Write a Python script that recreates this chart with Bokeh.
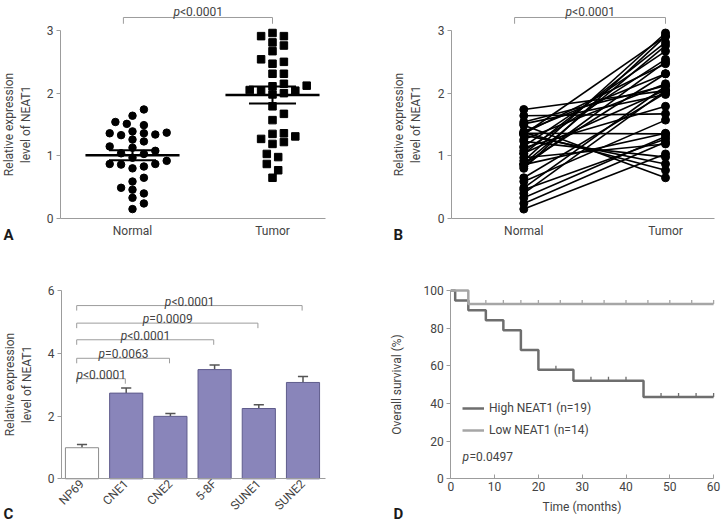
import math
import numpy as np
from bokeh.plotting import figure
from bokeh.layouts import column, row
from bokeh.models import Range1d, FixedTicker, Label, Legend, LegendItem
from bokeh.core.properties import value
from bokeh.embed import file_html
from bokeh.resources import INLINE

# ---------------- data ----------------
groups = ["Normal", "Tumor"]
# paired samples (same order in both lists)
normal_expr = [0.15, 0.24, 0.33, 0.40, 0.46, 0.49, 0.59, 0.65, 0.80, 0.83, 0.86,
               0.87, 0.87, 0.92, 0.97, 1.03, 1.04, 1.08, 1.13, 1.15, 1.23, 1.26,
               1.33, 1.34, 1.36, 1.36, 1.37, 1.39, 1.49, 1.51, 1.54, 1.64, 1.74]
tumor_expr = [1.03, 1.22, 1.31, 2.04, 1.27, 2.11, 1.57, 2.00, 2.91, 2.50, 1.36,
              2.76, 2.31, 2.96, 1.19, 2.81, 2.05, 2.54, 1.79, 2.67, 0.98, 2.15,
              0.87, 2.91, 1.35, 2.47, 0.77, 2.31, 0.65, 1.98, 2.12, 1.67, 2.04]
group_mean = [1.01, 1.97]
group_sem = [0.08, 0.135]
paired_p = "<0.0001"

cell_lines = ["NP69", "CNE1", "CNE2", "5-8F", "SUNE1", "SUNE2"]
cell_expr = [0.99, 2.73, 1.99, 3.48, 2.24, 3.07]
cell_err = [0.10, 0.16, 0.09, 0.15, 0.12, 0.19]
cmp_targets = ["CNE1", "CNE2", "5-8F", "SUNE1", "SUNE2"]
cmp_p = ["<0.0001", "=0.0063", "<0.0001", "=0.0009", "<0.0001"]
cmp_level = [3.19, 3.84, 4.43, 4.96, 5.52]

km_labels = ["High NEAT1 (n=19)", "Low NEAT1 (n=14)"]
high_time = [1, 4, 8, 12, 16, 16, 20, 20, 24, 28, 32, 36, 40, 44, 48, 52, 56, 60, 60]
high_event = [1, 1, 1, 1, 1, 1, 1, 1, 0, 1, 0, 0, 0, 1, 0, 0, 0, 0, 0]
low_time = [4, 8, 12, 16, 20, 25, 30, 35, 40, 45, 50, 55, 60, 60]
low_event = [1, 0, 0, 0, 0, 0, 0, 0, 0, 0, 0, 0, 0, 0]
km_p = "=0.0497"

# ---------------- style ----------------
FONT = "Roboto"
TXT = "#434343"
AXC = "#9c9c9c"
BAR_FILL = "#8985ba"
BAR_LINE = "#5f5c8c"
HIGH_C = "#6e6e6e"
LOW_C = "#a6a6a6"
FS = "12px"


def make_fig(w, h, xr, yr):
    p = figure(width=w, height=h, x_range=Range1d(*xr), y_range=Range1d(*yr),
               output_backend="svg", toolbar_location=None, title=None, min_border=0)
    p.outline_line_color = None
    p.xgrid.visible = False
    p.ygrid.visible = False
    for ax in (p.xaxis[0], p.yaxis[0]):
        ax.axis_line_color = AXC
        ax.major_tick_line_color = AXC
        ax.minor_tick_line_color = None
        ax.major_label_text_font = FONT
        ax.major_label_text_font_size = FS
        ax.major_label_text_color = TXT
        ax.axis_label_text_font = FONT
        ax.axis_label_text_font_style = "normal"
        ax.axis_label_text_font_size = FS
        ax.axis_label_text_color = TXT
    p.yaxis.major_tick_out = 4
    p.yaxis.major_tick_in = 0
    p.yaxis.major_label_standoff = 3
    return p


def panel_letter(p, text, x, y):
    p.add_layout(Label(x=x, y=y, x_units="screen", y_units="screen", text=text,
                       text_font=FONT, text_font_style="bold", text_font_size="15px",
                       text_color="#1a1a1a", text_baseline="alphabetic"))


def p_text(p, xs, ys, rests, yoff=-5, xoff=-18):
    p.text(x=xs, y=ys, text=["p"] * len(xs), text_font=value(FONT),
           text_font_style="italic", text_font_size=FS, text_color=TXT,
           text_align="right", text_baseline="alphabetic", x_offset=xoff, y_offset=yoff)
    p.text(x=xs, y=ys, text=rests, text_font=value(FONT), text_font_size=FS,
           text_color=TXT, text_align="left", text_baseline="alphabetic",
           x_offset=xoff, y_offset=yoff)


def swarm_offsets(vals, sx, sy, gap_x=11.4, gap_y=8.0, step_px=5.7):
    vals = np.asarray(vals, float)
    order = np.argsort(vals, kind="stable")
    placed = []
    out = np.zeros(len(vals))
    cands = [0.0]
    for k in range(1, 30):
        cands += [k * step_px, -k * step_px]
    for i in order:
        ypx = vals[i] * sy
        for c in cands:
            if all(((c - px) / gap_x) ** 2 + ((ypx - py) / gap_y) ** 2 >= 1 for px, py in placed):
                break
        out[i] = c / sx
        placed.append((c, ypx))
    return out


def kaplan_meier(times, events):
    t = np.asarray(times, float)
    e = np.asarray(events, int)
    xs, ys = [0.0], [100.0]
    cx, cy = [], []
    s = 100.0
    for ut in sorted(set(t)):
        at_risk = (t >= ut).sum()
        d = e[t == ut].sum()
        c = ((t == ut) & (e == 0)).sum()
        if d > 0:
            s = s * (1 - d / at_risk)
            xs.append(ut)
            ys.append(s)
        if c > 0:
            cx.append(ut)
            cy.append(s)
    xs.append(t.max())
    ys.append(s)
    return xs, ys, cx, cy


def pix_range(n_px, anchor_px, anchor_val, px_per_unit, flip=False):
    """data range spanning n_px pixels with anchor_val at anchor_px (from left, or from top if flip)."""
    if flip:
        return (anchor_val - (n_px - anchor_px) / px_per_unit, anchor_val + anchor_px / px_per_unit)
    return (anchor_val - anchor_px / px_per_unit, anchor_val + (n_px - anchor_px) / px_per_unit)


gpos = [1, 2]
ab_ticks = [0, 1, 2, 3]
W_L, W_R = 361, 361
H_TOP, H_BOT = 262, 259

# ---------------- Panel A ----------------
SXA, SYA = 140.0, 62.667
A_X = pix_range(W_L, 132, gpos[0], SXA)
A_Y = pix_range(H_TOP, 218, 0, SYA, flip=True)
A_YAX = gpos[0] - (132 - 60) / SXA
A_XEND = gpos[0] + (325 - 132) / SXA
pa = make_fig(W_L, H_TOP, A_X, A_Y)
pa.yaxis.fixed_location = A_YAX
pa.yaxis.ticker = FixedTicker(ticks=ab_ticks)
pa.yaxis.bounds = (0, 3)
pa.yaxis.axis_label = "Relative expression\nlevel of NEAT1"
pa.yaxis.axis_label_standoff = 11
pa.xaxis.fixed_location = 0
pa.xaxis.bounds = (A_YAX, A_XEND)
pa.xaxis.ticker = FixedTicker(ticks=gpos)
pa.xaxis.major_label_overrides = {g: n for g, n in zip(gpos, groups)}
pa.xaxis.major_tick_out = 0
pa.xaxis.major_tick_in = 0
pa.xaxis.major_label_standoff = 5

n_off = swarm_offsets(normal_expr, SXA, SYA)
t_off = swarm_offsets(tumor_expr, SXA, SYA)
pa.scatter(x=gpos[0] + n_off, y=normal_expr, marker="circle", size=7.5,
           fill_color="black", line_color="black")
pa.scatter(x=gpos[1] + t_off, y=tumor_expr, marker="square", size=7.5,
           fill_color="black", line_color="black")
MEAN_HW, CAP_HW = 0.336, 0.168
gm = np.array(group_mean)
gs = np.array(group_sem)
gp = np.array(gpos, float)
pa.segment(x0=gp - MEAN_HW, y0=gm, x1=gp + MEAN_HW, y1=gm, line_color="black", line_width=2.5)
pa.segment(x0=gp, y0=gm - gs, x1=gp, y1=gm + gs, line_color="black", line_width=2)
pa.segment(x0=gp - CAP_HW, y0=gm + gs, x1=gp + CAP_HW, y1=gm + gs, line_color="black", line_width=2)
pa.segment(x0=gp - CAP_HW, y0=gm - gs, x1=gp + CAP_HW, y1=gm - gs, line_color="black", line_width=2)
BR_LVL, BR_DROP, BR_L = 3.2075, 0.1, 0.065
pa.multi_line(xs=[[gpos[0] - BR_L, gpos[0] - BR_L, gpos[1], gpos[1]]],
              ys=[[BR_LVL - BR_DROP, BR_LVL, BR_LVL, BR_LVL - BR_DROP]],
              line_color=AXC, line_width=1)
p_text(pa, [(gpos[0] - BR_L + gpos[1]) / 2], [BR_LVL], [paired_p])
panel_letter(pa, "A", 3, 28)

# ---------------- Panel B ----------------
SXB = 141.7
B_X = pix_range(W_R, 162.3, gpos[0], SXB)
B_YAX = gpos[0] - (162.3 - 90) / SXB
B_XEND = gpos[0] + (353 - 162.3) / SXB
pb = make_fig(W_R, H_TOP, B_X, A_Y)
pb.yaxis.fixed_location = B_YAX
pb.yaxis.ticker = FixedTicker(ticks=ab_ticks)
pb.yaxis.bounds = (0, 3)
pb.yaxis.axis_label = "Relative expression\nlevel of NEAT1"
pb.yaxis.axis_label_standoff = 12
pb.xaxis.fixed_location = 0
pb.xaxis.bounds = (B_YAX, B_XEND)
pb.xaxis.ticker = FixedTicker(ticks=gpos)
pb.xaxis.major_label_overrides = {g: n for g, n in zip(gpos, groups)}
pb.xaxis.major_tick_out = 0
pb.xaxis.major_tick_in = 0
pb.xaxis.major_label_standoff = 5
nx = np.full(len(normal_expr), gpos[0], float)
tx = np.full(len(tumor_expr), gpos[1], float)
pb.segment(x0=nx, y0=normal_expr, x1=tx, y1=tumor_expr, line_color="black", line_width=1.6)
pb.scatter(x=nx, y=normal_expr, marker="circle", size=8, fill_color="black", line_color="black")
pb.scatter(x=tx, y=tumor_expr, marker="circle", size=8, fill_color="black", line_color="black")
pb.multi_line(xs=[[gpos[0] - BR_L, gpos[0] - BR_L, gpos[1], gpos[1]]],
              ys=[[BR_LVL - BR_DROP, BR_LVL, BR_LVL, BR_LVL - BR_DROP]],
              line_color=AXC, line_width=1)
p_text(pb, [(gpos[0] - BR_L + gpos[1]) / 2], [BR_LVL], [paired_p])
panel_letter(pb, "B", 32, 28)

# ---------------- Panel C ----------------
SXC, SYC = 44.2, 31.383
cpos = np.arange(1, len(cell_lines) + 1, dtype=float)
C_X = pix_range(W_L, 81.5, cpos[0], SXC)
C_Y = pix_range(H_BOT, 216.3, 0, SYC, flip=True)
C_YAX = cpos[0] - (81.5 - 61) / SXC
C_XEND = cpos[0] + (325 - 81.5) / SXC
pc = make_fig(W_L, H_BOT, C_X, C_Y)
pc.yaxis.fixed_location = C_YAX
pc.yaxis.ticker = FixedTicker(ticks=[0, 2, 4, 6])
pc.yaxis.bounds = (0, 6)
pc.yaxis.axis_label = "Relative expression\nlevel of NEAT1"
pc.yaxis.axis_label_standoff = 11
pc.xaxis.fixed_location = 0
pc.xaxis.bounds = (C_YAX, C_XEND)
pc.xaxis.ticker = FixedTicker(ticks=list(cpos))
pc.xaxis.major_label_overrides = {float(x): n for x, n in zip(cpos, cell_lines)}
pc.xaxis.major_label_orientation = math.pi / 4
pc.xaxis.major_tick_out = 0
pc.xaxis.major_tick_in = 0
pc.xaxis.major_label_standoff = 3
fills = ["white"] + [BAR_FILL] * (len(cell_lines) - 1)
lines = ["#8c8c8c"] + [BAR_LINE] * (len(cell_lines) - 1)
ce = np.array(cell_expr)
cr = np.array(cell_err)
EB_HW = 0.115
pc.segment(x0=cpos, y0=ce, x1=cpos, y1=ce + cr, line_color="#555555", line_width=1.5)
pc.segment(x0=cpos - EB_HW, y0=ce + cr, x1=cpos + EB_HW, y1=ce + cr, line_color="#555555", line_width=1.5)
pc.vbar(x=cpos, top=ce, bottom=0, width=0.75, fill_color=fills, line_color=lines, line_width=1)
C_BL, C_BR, C_DROP = 0.12, 0.02, 0.16
bx0 = cpos[0] - C_BL
bxs, bys, mids = [], [], []
for tgt, lvl in zip(cmp_targets, cmp_level):
    x1 = cpos[cell_lines.index(tgt)] - C_BR
    bxs.append([bx0, bx0, x1, x1])
    bys.append([lvl - C_DROP, lvl, lvl, lvl - C_DROP])
    mids.append((bx0 + x1) / 2)
pc.multi_line(xs=bxs, ys=bys, line_color=AXC, line_width=1)
p_text(pc, mids, cmp_level, cmp_p, yoff=-4)
panel_letter(pc, "C", 3, 8)

# ---------------- Panel D ----------------
SXD, SYD = 4.38, 1.883
D_X = pix_range(W_R, 89.3, 0, SXD)
D_Y = pix_range(H_BOT, 216.3, 0, SYD, flip=True)
pd_ = make_fig(W_R, H_BOT, D_X, D_Y)
pd_.yaxis.fixed_location = 0
pd_.yaxis.ticker = FixedTicker(ticks=[0, 20, 40, 60, 80, 100])
pd_.yaxis.bounds = (0, 100)
pd_.yaxis.axis_label = "Overall survival (%)"
pd_.yaxis.axis_label_standoff = 16
pd_.xaxis.fixed_location = 0
pd_.xaxis.bounds = (0, 60)
pd_.xaxis.ticker = FixedTicker(ticks=[0, 10, 20, 30, 40, 50, 60])
pd_.xaxis.major_tick_in = 4
pd_.xaxis.major_tick_out = 0
pd_.xaxis.major_label_standoff = 3
pd_.xaxis.axis_label = "Time (months)"
pd_.xaxis.axis_label_standoff = 6

CENS_LEN = 4 / SYD
hx, hy, hcx, hcy = kaplan_meier(high_time, high_event)
lx, ly, lcx, lcy = kaplan_meier(low_time, low_event)
r_high = pd_.step(x=hx, y=hy, mode="after", line_color=HIGH_C, line_width=2.5)
pd_.segment(x0=hcx, y0=hcy, x1=hcx, y1=np.array(hcy) + CENS_LEN, line_color=HIGH_C, line_width=1.3)
r_low = pd_.step(x=lx, y=ly, mode="after", line_color=LOW_C, line_width=2.5)
pd_.segment(x0=lcx, y0=lcy, x1=lcx, y1=np.array(lcy) + CENS_LEN, line_color=LOW_C, line_width=1.3)
m_high = pd_.scatter(x=[], y=[], marker="cross", size=7, line_color=HIGH_C, line_width=1.3)
m_low = pd_.scatter(x=[], y=[], marker="cross", size=7, line_color=LOW_C, line_width=1.3)
legend = Legend(items=[LegendItem(label=km_labels[0], renderers=[r_high, m_high]),
                       LegendItem(label=km_labels[1], renderers=[r_low, m_low])],
                location=(101, 81), glyph_width=22, glyph_height=20, label_height=20,
                spacing=2, padding=0, margin=0, label_standoff=5,
                label_text_font=FONT, label_text_font_size=FS, label_text_color=TXT,
                border_line_alpha=0, background_fill_alpha=0)
pd_.add_layout(legend)
pd_.add_layout(Label(x=101, y=65, x_units="screen", y_units="screen", text="p",
                     text_font=FONT, text_font_style="italic", text_font_size=FS,
                     text_color=TXT, text_baseline="alphabetic"))
pd_.add_layout(Label(x=108, y=65, x_units="screen", y_units="screen", text=km_p,
                     text_font=FONT, text_font_size=FS, text_color=TXT,
                     text_baseline="alphabetic"))
panel_letter(pd_, "D", 32, 8)

layout = column(row(pa, pb), row(pc, pd_))
open("out.html", "w").write(file_html(layout, INLINE))
